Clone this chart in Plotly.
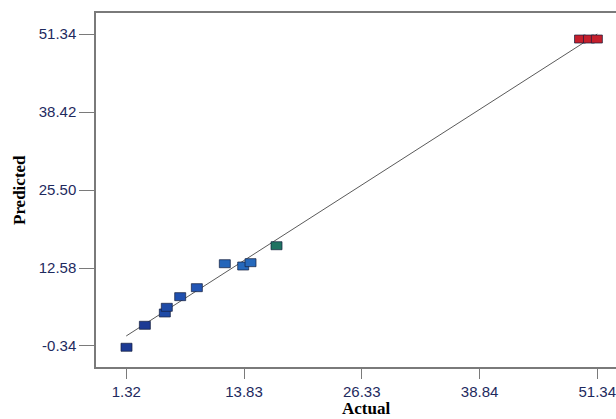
import plotly.graph_objects as go

# Data
actual = [1.35, 3.30, 5.42, 5.63, 7.05, 8.82, 11.79, 13.74, 14.52, 17.28, 49.51, 50.46, 51.30]
predicted = [-0.55, 3.09, 5.13, 6.07, 7.83, 9.32, 13.29, 12.91, 13.46, 16.27, 50.51, 50.51, 50.51]
point_colors = ["#1c3a94", "#1c3a94", "#1e4aa6", "#1e4aa6", "#1f4fae", "#2255b4",
                "#2566ba", "#2669bc", "#2669bc", "#1f7362", "#c51f2c", "#c51f2c", "#c51f2c"]
x_ticks = [1.32, 13.83, 26.33, 38.84, 51.34]
y_ticks = [-0.34, 12.58, 25.50, 38.42, 51.34]
line_x = [1.32, 51.34]
line_y = [1.32, 51.34]

W, H = 616, 419
L, T, B = 96, 13, 419 - 367
PW = W - L
PH = 367 - 13

fig = go.Figure()
fig.add_trace(go.Scatter(x=line_x, y=line_y, mode="lines",
                         line=dict(color="#5a5a5a", width=1), hoverinfo="skip",
                         showlegend=False))

shapes = []
for xv, yv, c in zip(actual, predicted, point_colors):
    shapes.append(dict(type="rect", xref="x", yref="y",
                       xsizemode="pixel", ysizemode="pixel",
                       xanchor=xv, yanchor=yv,
                       x0=-5.5, x1=5.5, y0=-4, y1=4,
                       fillcolor=c, line=dict(color="rgba(20,30,60,0.7)", width=1)))

tick_font = dict(family="Liberation Sans, Arial", size=15, color="#1e2a5e")
fig.update_layout(
    width=W, height=H,
    margin=dict(l=L, r=0, t=T, b=B),
    plot_bgcolor="white", paper_bgcolor="white",
    shapes=shapes,
    showlegend=False,
    xaxis=dict(range=[-1.89, 53.33], tickvals=x_ticks,
               ticktext=[f"{v:.2f}" for v in x_ticks],
               showgrid=False, zeroline=False,
               showline=True, linecolor="#7a7a7a", linewidth=1.5, mirror=True,
               ticks="outside", ticklen=10, tickcolor="#7a7a7a", tickwidth=1.3,
               tickfont=tick_font, ticklabeloverflow="allow"),
    yaxis=dict(range=[-3.82, 54.82], tickvals=y_ticks,
               ticktext=[f"{v:.2f}" for v in y_ticks],
               showgrid=False, zeroline=False,
               showline=True, linecolor="#7a7a7a", linewidth=1.5, mirror=False,
               ticks="outside", ticklen=15, tickcolor="#7a7a7a", tickwidth=1.3,
               tickfont=tick_font),
    annotations=[
        dict(text="<b>Actual</b>", xref="paper", yref="paper", x=(366 - L) / PW,
             y=-(409 - 367) / PH, xanchor="center", yanchor="middle", showarrow=False,
             font=dict(family="Liberation Serif, Times New Roman", size=17, color="black")),
        dict(text="<b>Predicted</b>", xref="paper", yref="paper", x=-(L - 19) / PW,
             y=0.5, xanchor="center", yanchor="middle", showarrow=False, textangle=-90,
             font=dict(family="Liberation Serif, Times New Roman", size=17, color="black")),
    ],
)

fig.write_html("out.html", config={"displayModeBar": False},
               post_script="document.body.style.margin='0';document.body.style.overflow='hidden';")
